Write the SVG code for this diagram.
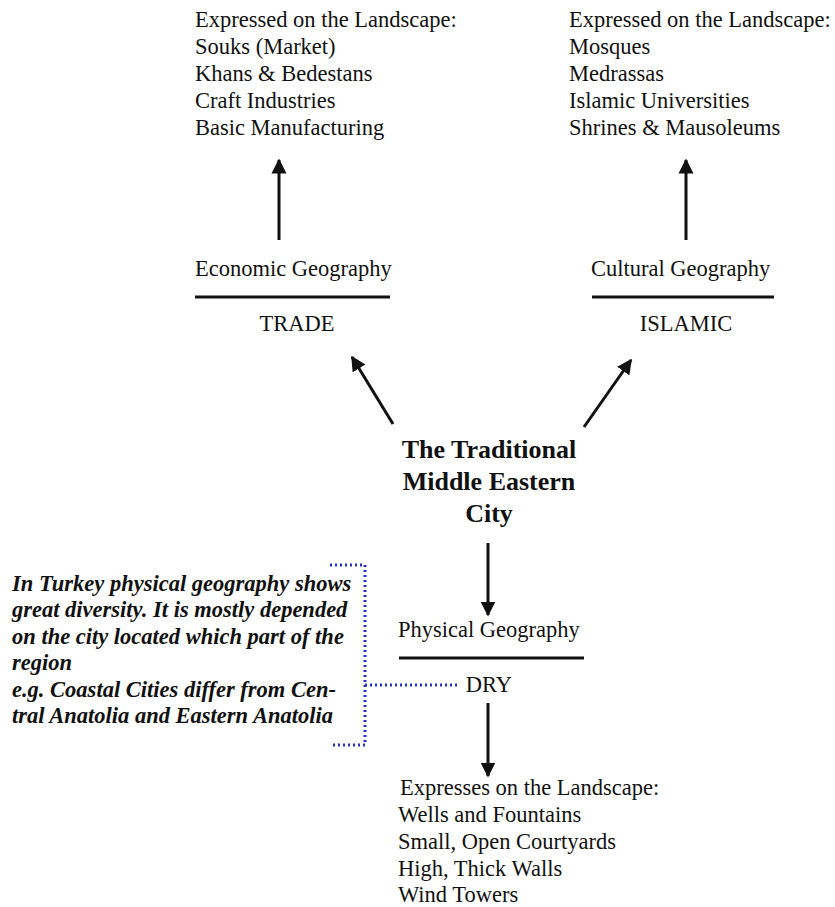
<svg xmlns="http://www.w3.org/2000/svg" width="835" height="907" viewBox="0 0 835 907">
  <style>
    .t { font-family: "Liberation Serif", "Times New Roman", serif; font-size: 22.5px; fill: #111; }
    .title { font-family: "Liberation Serif", "Times New Roman", serif; font-size: 26px; font-weight: bold; fill: #111; }
    .note { font-family: "Liberation Serif", "Times New Roman", serif; font-size: 22.5px; font-weight: bold; font-style: italic; fill: #111; }
    .rule { stroke: #111; stroke-width: 3; }
    .arrow { stroke: #111; stroke-width: 3; fill: none; marker-end: url(#head); }
    .dots { stroke: #2233cc; stroke-width: 3; stroke-dasharray: 2 3; fill: none; }
  </style>
  <defs>
    <marker id="head" viewBox="0 0 10 10" refX="9" refY="5" markerWidth="5" markerHeight="5.5" orient="auto" markerUnits="strokeWidth">
      <path d="M0,0 L10,5 L0,10 z" fill="#111"/>
    </marker>
  </defs>
  <rect width="835" height="907" fill="#fff"/>

  <g id="trade-landscape">
    <text class="t" x="195" y="27">Expressed on the Landscape:</text>
    <text class="t" x="195" y="54">Souks (Market)</text>
    <text class="t" x="195" y="81">Khans &amp; Bedestans</text>
    <text class="t" x="195" y="108">Craft Industries</text>
    <text class="t" x="195" y="135">Basic Manufacturing</text>
  </g>

  <g id="islamic-landscape">
    <text class="t" x="569" y="27">Expressed on the Landscape:</text>
    <text class="t" x="569" y="54">Mosques</text>
    <text class="t" x="569" y="81">Medrassas</text>
    <text class="t" x="569" y="108">Islamic Universities</text>
    <text class="t" x="569" y="135">Shrines &amp; Mausoleums</text>
  </g>

  <g id="economic">
    <text class="t" x="195" y="276">Economic Geography</text>
    <line class="rule" x1="195" y1="297" x2="390" y2="297"/>
    <text class="t" x="297" y="331" text-anchor="middle">TRADE</text>
  </g>

  <g id="cultural">
    <text class="t" x="591" y="276">Cultural Geography</text>
    <line class="rule" x1="592" y1="297" x2="774" y2="297"/>
    <text class="t" x="686" y="331" text-anchor="middle">ISLAMIC</text>
  </g>

  <g id="city">
    <text class="title" x="489" y="458" text-anchor="middle">The Traditional</text>
    <text class="title" x="489" y="490" text-anchor="middle">Middle Eastern</text>
    <text class="title" x="489" y="522" text-anchor="middle">City</text>
  </g>

  <g id="physical">
    <text class="t" x="398" y="637">Physical Geography</text>
    <line class="rule" x1="399" y1="658" x2="584" y2="658"/>
    <text class="t" x="489" y="692" text-anchor="middle">DRY</text>
  </g>

  <g id="dry-landscape">
    <text class="t" x="400" y="795">Expresses on the Landscape:</text>
    <text class="t" x="398" y="822">Wells and Fountains</text>
    <text class="t" x="398" y="849">Small, Open Courtyards</text>
    <text class="t" x="398" y="876">High, Thick Walls</text>
    <text class="t" x="398" y="902">Wind Towers</text>
  </g>

  <g id="turkey-note">
    <text class="note" x="12" y="591">In Turkey physical geography shows</text>
    <text class="note" x="12" y="617">great diversity. It is mostly depended</text>
    <text class="note" x="12" y="644">on the city located which part of the</text>
    <text class="note" x="12" y="670">region</text>
    <text class="note" x="12" y="697">e.g. Coastal Cities differ from Cen-</text>
    <text class="note" x="12" y="723">tral Anatolia and Eastern Anatolia</text>
  </g>

  <g id="connectors">
    <line class="arrow" x1="279" y1="240" x2="279" y2="160"/>
    <line class="arrow" x1="686" y1="240" x2="686" y2="160"/>
    <line class="arrow" x1="393" y1="424" x2="352" y2="357"/>
    <line class="arrow" x1="584" y1="427" x2="631" y2="360"/>
    <line class="arrow" x1="488" y1="543" x2="488" y2="615"/>
    <line class="arrow" x1="488" y1="703" x2="488" y2="776"/>
    <path class="dots" d="M330,565 H365 V745 H330"/>
    <path class="dots" d="M365,685 H460"/>
  </g>
</svg>
